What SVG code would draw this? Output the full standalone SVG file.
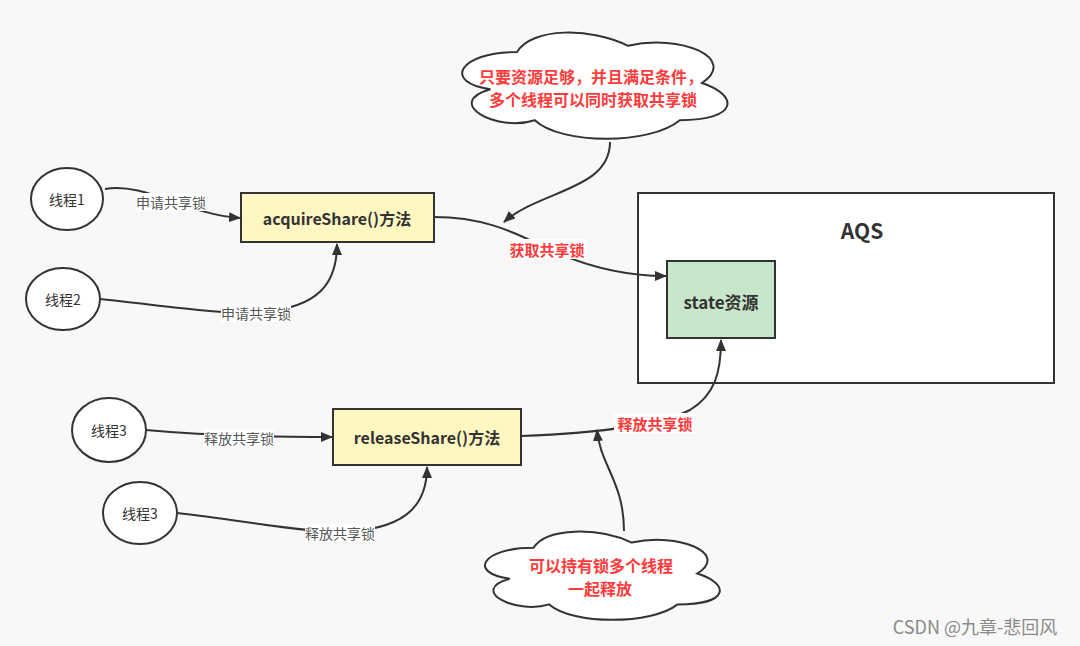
<svg xmlns="http://www.w3.org/2000/svg" width="1080" height="646" viewBox="0 0 1080 646">
<style>
.bg{fill:#f8f8f8}
.ell{fill:#ffffff;stroke:#333333;stroke-width:2}
.box{stroke:#333333;stroke-width:2}
.cloud{fill:#ffffff;stroke:#333333;stroke-width:2}
.edge{fill:none;stroke:#333333;stroke-width:2}
.t{font-family:"Noto Sans CJK SC","Liberation Sans",sans-serif;text-anchor:middle;dominant-baseline:central}
.node{font-size:14px;fill:#333333}
.title{font-size:16px;font-weight:bold;fill:#333333}
.lbl{font-size:14px;fill:#555555}
.red{font-size:15px;font-weight:bold;fill:#ff3b3b}
.lblbg{fill:#ffffff}
</style>
<defs>
<marker id="arr" viewBox="0 0 12 10" refX="11" refY="5" markerWidth="12" markerHeight="10" markerUnits="userSpaceOnUse" orient="auto">
<path d="M0,0 L12,5 L0,10 Z" fill="#333333"/>
</marker>
</defs>
<rect class="bg" x="0" y="0" width="1080" height="646"/>

<g id="aqs">
<rect class="box" x="638" y="193" width="416" height="190" fill="#ffffff"/>
<text class="t" x="862" y="230" style="font-size:21px;font-weight:bold;fill:#333333">AQS</text>
</g>
<g id="state">
<rect class="box" x="667" y="261" width="108" height="77" fill="#c8e6c9"/>
<text class="t title" x="721" y="301" style="font-size:17px">state资源</text>
</g>

<g id="thread1">
<ellipse class="ell" cx="67" cy="199" rx="36" ry="31"/>
<text class="t node" x="67" y="199">线程1</text>
</g>
<g id="thread2">
<ellipse class="ell" cx="63" cy="299" rx="37" ry="31"/>
<text class="t node" x="63" y="299">线程2</text>
</g>
<g id="thread3a">
<ellipse class="ell" cx="109" cy="430" rx="37" ry="32"/>
<text class="t node" x="109" y="430">线程3</text>
</g>
<g id="thread3b">
<ellipse class="ell" cx="140" cy="513" rx="37" ry="31"/>
<text class="t node" x="140" y="513">线程3</text>
</g>

<g id="acquireShare">
<rect class="box" x="241" y="193" width="193" height="49" fill="#fff7c2"/>
<text class="t title" x="337" y="218">acquireShare()方法</text>
</g>
<g id="releaseShare">
<rect class="box" x="333" y="409" width="188" height="56" fill="#fff7c2"/>
<text class="t title" x="427" y="437">releaseShare()方法</text>
</g>

<g id="cloud1">
<path class="cloud" d="M517,52 C457.8,52 443,83 490.4,89.2 C443,102.8 496.3,132.6 534.8,120.2 C561.4,145 650.2,145 679.8,120.2 C739,120.2 739,95.4 702,83 C739,58.2 679.8,33.4 628,45.8 C591,27.2 531.8,27.2 517,52 Z"/>
<text class="t red" x="591" y="76" style="font-size:16px">只要资源足够，并且满足条件，</text>
<text class="t red" x="593" y="99" style="font-size:16px">多个线程可以同时获取共享锁</text>
</g>
<g id="cloud2">
<path class="cloud" d="M533.5,547.75 C481.1,547.75 468,573.5 509.9,578.65 C468,590 515.2,614.7 549.2,604.4 C572.8,625 651.4,625 677.6,604.4 C730,604.4 730,583.8 697.25,573.5 C730,552.9 677.6,532.3 631.75,542.6 C599,527.15 546.6,527.15 533.5,547.75 Z"/>
<text class="t red" x="601" y="565" style="font-size:16px">可以持有锁多个线程</text>
<text class="t red" x="600" y="588" style="font-size:16px">一起释放</text>
</g>

<g id="connectors">
<path class="edge" marker-end="url(#arr)" d="M105,189 C145,182 185,214 240,218"/>
<path class="edge" marker-end="url(#arr)" d="M100,299 C160,305 220,315 260,312 C320,308 337,282 337,244"/>
<path class="edge" marker-end="url(#arr)" d="M434,217 C480,217 510,230 540,245 C580,265 620,276 666,276"/>
<path class="edge" marker-end="url(#arr)" d="M610,142 C610,190 540,190 504,222"/>
<path class="edge" marker-end="url(#arr)" d="M146,430 C200,435 260,437 332,437"/>
<path class="edge" marker-end="url(#arr)" d="M177,513 C240,520 300,532 340,532 C400,530 427,510 427,467"/>
<path class="edge" marker-end="url(#arr)" d="M521,436 C600,433 660,425 690,410 C715,395 721,372 721,340"/>
<path class="edge" marker-end="url(#arr)" d="M624,531 C624,482 600,465 597,430"/>
<rect class="lblbg" x="136" y="193" width="70" height="18"/>
<text class="t lbl" x="171" y="202">申请共享锁</text>
<rect class="lblbg" x="221" y="304" width="70" height="18"/>
<text class="t lbl" x="256" y="313">申请共享锁</text>
<rect class="lblbg" x="204" y="429" width="70" height="18"/>
<text class="t lbl" x="239" y="438">释放共享锁</text>
<rect class="lblbg" x="305" y="524" width="70" height="18"/>
<text class="t lbl" x="340" y="533">释放共享锁</text>
<rect class="lblbg" x="509" y="239" width="77" height="20"/>
<text class="t red" x="547" y="249">获取共享锁</text>
<rect class="lblbg" x="614" y="413" width="82" height="20"/>
<text class="t red" x="655" y="423">释放共享锁</text>
</g>

<text class="t" x="975" y="626" style="font-size:18px;fill:#8a8a8a">CSDN @九章-悲回风</text>
</svg>
